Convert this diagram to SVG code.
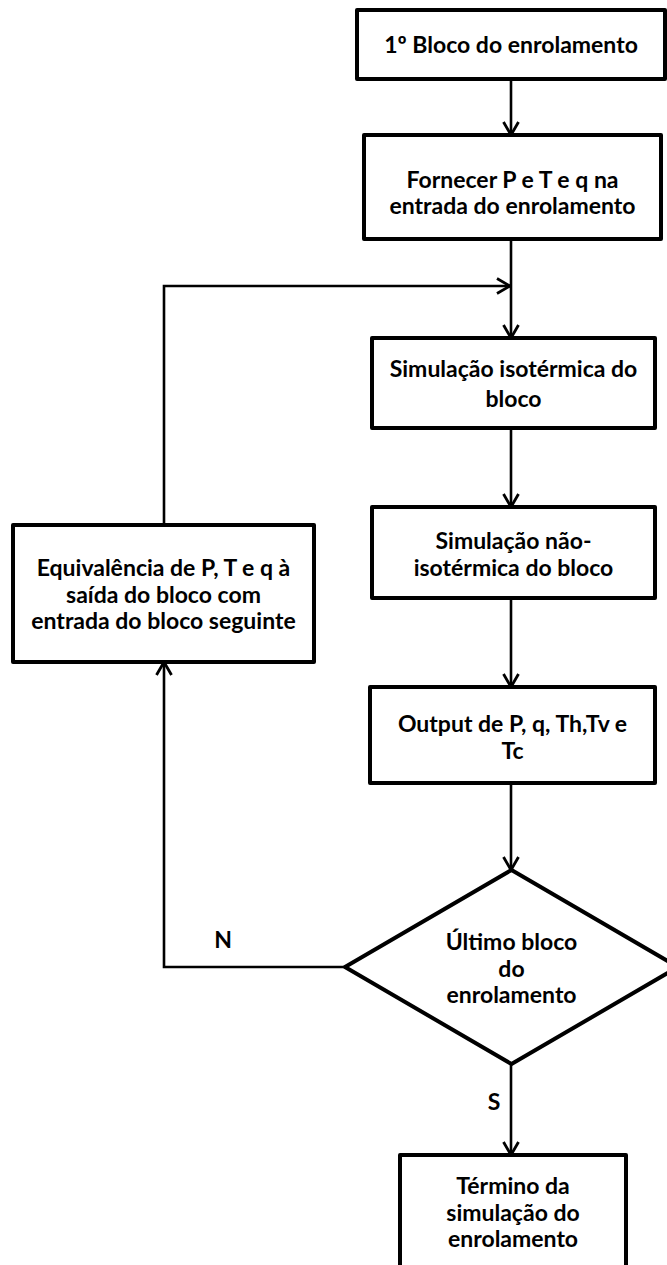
<svg xmlns="http://www.w3.org/2000/svg" width="667" height="1265" viewBox="0 0 667 1265">
<style>
.box{fill:#fff;stroke:#000;stroke-width:4;stroke-linejoin:round}
.t{font-family:Lato,"Liberation Sans",sans-serif;font-weight:700;font-size:23px;fill:#000;text-anchor:middle}
.c{fill:none;stroke:#000;stroke-width:2.6}
</style>
<defs>
<marker id="ah" viewBox="-15 -9 17 18" refX="0" refY="0" markerWidth="17" markerHeight="18" markerUnits="userSpaceOnUse" orient="auto">
<path d="M-13,-7.5 L0,0 L-13,7.5" fill="none" stroke="#000" stroke-width="2.8"/>
</marker>
</defs>
<rect width="667" height="1265" fill="#fff"/>
<g id="connectors">
<path class="c" d="M511,79 V135" marker-end="url(#ah)"/>
<path class="c" d="M511,239 V338" marker-end="url(#ah)"/>
<path class="c" d="M164,525 V286 H510" marker-end="url(#ah)"/>
<path class="c" d="M511,428 V507" marker-end="url(#ah)"/>
<path class="c" d="M511,598 V687" marker-end="url(#ah)"/>
<path class="c" d="M511,783 V870" marker-end="url(#ah)"/>
<path class="c" d="M345,967 H164 V662" marker-end="url(#ah)"/>
<path class="c" d="M511,1064 V1155" marker-end="url(#ah)"/>
<text class="t" x="223" y="948">N</text>
<text class="t" x="494" y="1110">S</text>
</g>
<g id="n1">
<rect class="box" x="357" y="10" width="308" height="69"/>
<text class="t" x="511" y="53">1º Bloco do enrolamento</text>
</g>
<g id="n2">
<rect class="box" x="364" y="135" width="297" height="104"/>
<text class="t" x="512.5" y="188">Fornecer P e T e q na</text>
<text class="t" x="512.5" y="214">entrada do enrolamento</text>
</g>
<g id="n3">
<rect class="box" x="372" y="338" width="283" height="90"/>
<text class="t" x="513.5" y="377">Simulação isotérmica do</text>
<text class="t" x="513.5" y="407">bloco</text>
</g>
<g id="n4">
<rect class="box" x="372" y="507" width="283" height="91"/>
<text class="t" x="513.5" y="549">Simulação não-</text>
<text class="t" x="513.5" y="576">isotérmica do bloco</text>
</g>
<g id="n5">
<rect class="box" x="370" y="687" width="285" height="96"/>
<text class="t" x="512.5" y="732">Output de P, q, Th,Tv e</text>
<text class="t" x="512.5" y="759">Tc</text>
</g>
<g id="n6">
<rect class="box" x="13" y="525" width="301" height="137"/>
<text class="t" x="163.5" y="576">Equivalência de P, T e q à</text>
<text class="t" x="163.5" y="603">saída do bloco com</text>
<text class="t" x="163.5" y="629">entrada do bloco seguinte</text>
</g>
<g id="n7">
<polygon class="box" points="511.5,870 678,967 511.5,1064 345,967"/>
<text class="t" x="511.5" y="950">Último bloco</text>
<text class="t" x="511.5" y="977">do</text>
<text class="t" x="511.5" y="1003">enrolamento</text>
</g>
<g id="n8">
<rect class="box" x="400" y="1155" width="226" height="130"/>
<text class="t" x="513" y="1194">Término da</text>
<text class="t" x="513" y="1221">simulação do</text>
<text class="t" x="513" y="1247">enrolamento</text>
</g>
</svg>
